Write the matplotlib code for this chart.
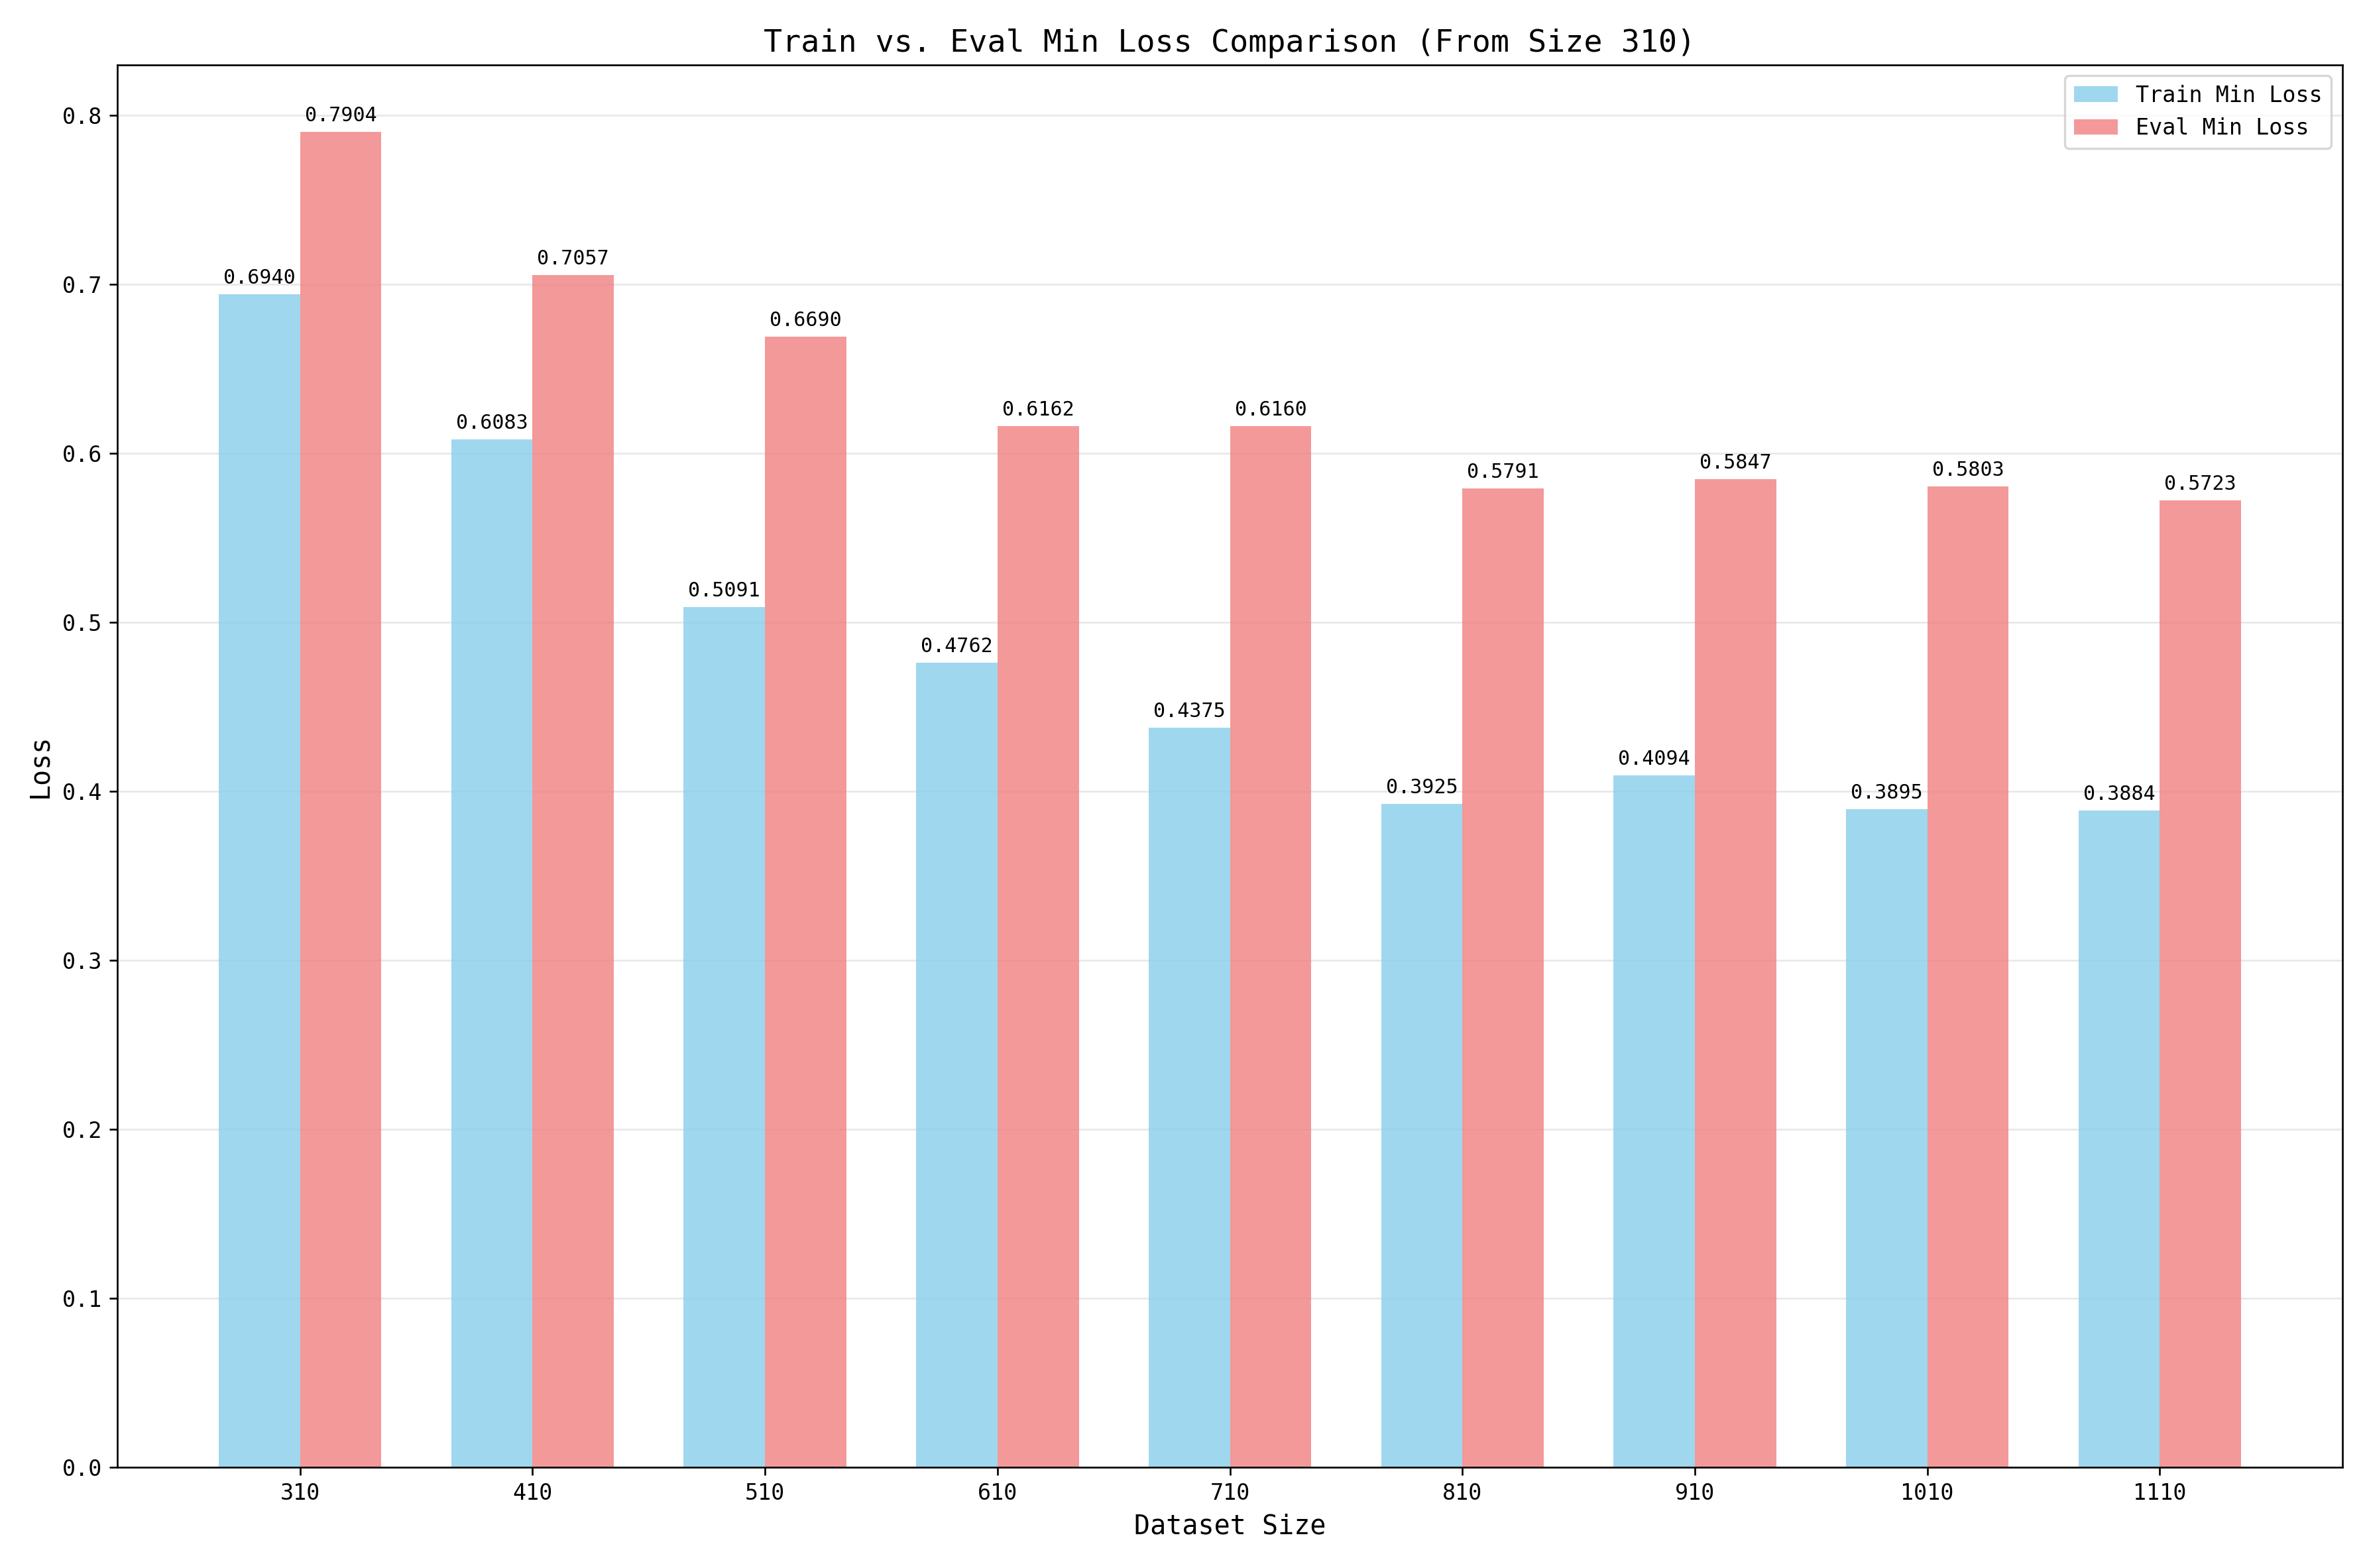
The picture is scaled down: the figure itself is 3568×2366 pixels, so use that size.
import matplotlib
matplotlib.use('Agg')
import matplotlib.pyplot as plt
import numpy as np

plt.rcParams['font.family'] = ['DejaVu Sans Mono', 'DejaVu Sans']

sizes = ['310', '410', '510', '610', '710', '810', '910', '1010', '1110']
train_loss = [0.6940, 0.6083, 0.5091, 0.4762, 0.4375, 0.3925, 0.4094, 0.3895, 0.3884]
eval_loss = [0.7904, 0.7057, 0.6690, 0.6162, 0.6160, 0.5791, 0.5847, 0.5803, 0.5723]

fig = plt.figure(figsize=(3568/240, 2366/240), dpi=240)
ax = fig.add_axes([0.0497, 0.0644, 0.9407, 0.8943])
x = np.arange(len(sizes))
w = 0.35
b1 = ax.bar(x - w/2, train_loss, w, color='skyblue', alpha=0.8, label='Train Min Loss')
b2 = ax.bar(x + w/2, eval_loss, w, color='lightcoral', alpha=0.8, label='Eval Min Loss')
for bars, vals in ((b1, train_loss), (b2, eval_loss)):
    for r, v in zip(bars, vals):
        ax.annotate(f'{v:.4f}', (r.get_x() + r.get_width()/2, v), xytext=(0, 3),
                    textcoords='offset points', ha='center', va='bottom', fontsize=9)
ax.set_xticks(x)
ax.set_xticklabels(sizes)
ax.set_xlabel('Dataset Size', fontsize=12)
ax.set_ylabel('Loss', fontsize=12)
ax.set_title('Train vs. Eval Min Loss Comparison (From Size 310)', fontsize=14)
ax.legend(loc='upper right')
ax.grid(axis='y', alpha=0.3)
ax.set_axisbelow(True)
ax.set_ylim(0, 0.83)
fig.savefig('out.png', dpi=240)
